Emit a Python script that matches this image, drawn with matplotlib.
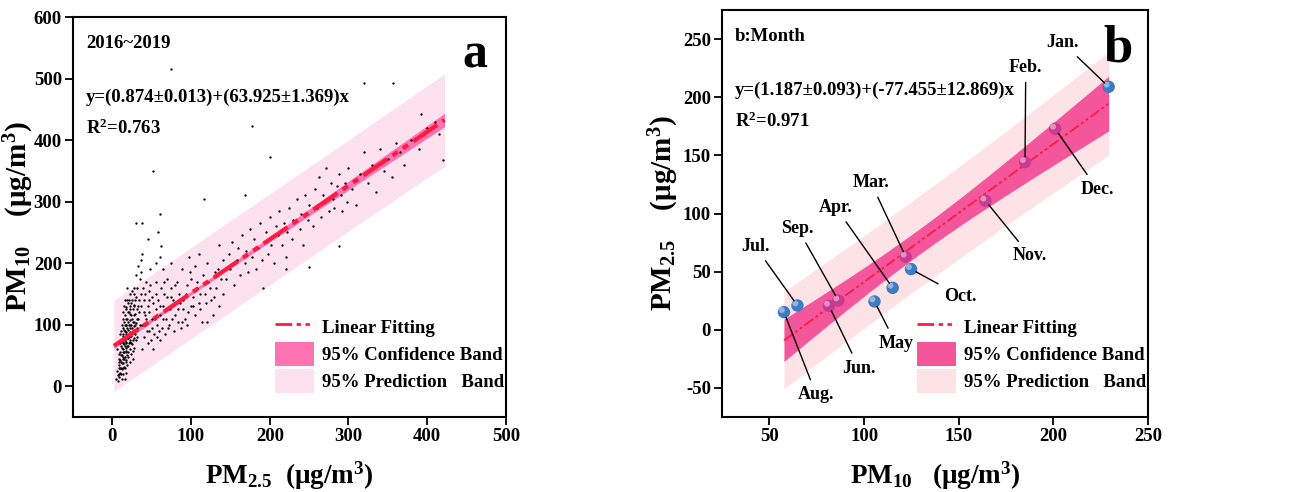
import numpy as np
import matplotlib
matplotlib.use('Agg')
import matplotlib.pyplot as plt
import matplotlib.transforms as mtransforms
from matplotlib.lines import Line2D
from matplotlib.patches import Patch

plt.rcParams['font.family'] = ['Liberation Serif', 'DejaVu Serif']
plt.rcParams['font.weight'] = 'bold'
plt.rcParams['axes.labelweight'] = 'bold'
plt.rcParams['axes.unicode_minus'] = False
plt.rcParams['mathtext.fontset'] = 'custom'
plt.rcParams['mathtext.rm'] = 'Liberation Serif:bold'
plt.rcParams['mathtext.it'] = 'Liberation Serif:bold'
plt.rcParams['mathtext.bf'] = 'Liberation Serif:bold'
plt.rcParams['mathtext.default'] = 'bf'

# ---- panel a: daily PM2.5 vs PM10 ----
daily_points = [
    (5, 12), (6, 25), (7, 18), (8, 35), (8, 45), (9, 30), (10, 22), (10, 55), (11, 40), (11, 65),
    (12, 28), (12, 50), (12, 75), (13, 38), (13, 60), (13, 85), (14, 45), (14, 70), (14, 95), (15, 32),
    (15, 55), (15, 80), (15, 105), (16, 48), (16, 65), (16, 90), (16, 115), (17, 40), (17, 72), (17, 100),
    (18, 58), (18, 85), (18, 125), (19, 50), (19, 78), (19, 110), (20, 65), (20, 92), (20, 135), (21, 70),
    (21, 100), (21, 120), (22, 60), (22, 88), (22, 150), (23, 75), (23, 108), (23, 130), (24, 82), (24, 115),
    (25, 68), (25, 95), (25, 140), (26, 90), (26, 125), (27, 78), (27, 105), (27, 160), (28, 98), (28, 132),
    (29, 85), (29, 118), (30, 102), (30, 145), (31, 92), (32, 125), (33, 110), (34, 140), (35, 175), (36, 205),
    (37, 185), (38, 215), (33, 195), (30, 180), (7, 8), (9, 15), (11, 20), (13, 30), (18, 42), (20, 48),
    (22, 40), (24, 52), (26, 58), (14, 120), (16, 140), (19, 160), (12, 100), (10, 85), (6, 60), (14, 20),
    (17, 55), (19, 35), (21, 85), (23, 95), (15, 68), (13, 48), (18, 100), (20, 78), (11, 30), (16, 30),
    (9, 40), (10, 30), (10, 70), (11, 50), (11, 90), (12, 38), (12, 62), (13, 72), (13, 110), (14, 55),
    (14, 82), (15, 45), (15, 92), (15, 130), (16, 75), (16, 100), (17, 62), (17, 88), (17, 128), (18, 70),
    (18, 110), (19, 65), (19, 95), (19, 140), (20, 55), (20, 105), (20, 120), (21, 80), (21, 140), (22, 72),
    (22, 100), (22, 125), (23, 85), (23, 118), (24, 70), (24, 100), (24, 135), (25, 110), (25, 155), (26, 75),
    (26, 105), (27, 92), (27, 130), (28, 115), (28, 150), (29, 100), (29, 140), (31, 110), (31, 160), (32, 95),
    (33, 130), (34, 120), (35, 100), (36, 150), (37, 130), (38, 100), (39, 160), (40, 140), (41, 115), (43, 170),
    (26, 45), (28, 62), (30, 75), (32, 80), (18, 22), (16, 12), (12, 12), (8, 20), (9, 52), (10, 42),
    (38, 60), (40, 80), (40, 120), (42, 100), (42, 150), (45, 70), (45, 130), (47, 90), (48, 165), (50, 110),
    (50, 145), (52, 60), (53, 85), (55, 125), (55, 170), (57, 100), (58, 140), (60, 75), (60, 115), (62, 160),
    (63, 95), (65, 130), (65, 190), (67, 85), (68, 110), (70, 145), (70, 175), (72, 100), (73, 125), (75, 160),
    (75, 200), (78, 90), (80, 135), (80, 115), (82, 170), (84, 105), (85, 150), (87, 95), (88, 190), (90, 125),
    (90, 140), (92, 110), (95, 165), (95, 100), (97, 210), (100, 130), (100, 175), (102, 145), (105, 115), (105, 195),
    (108, 160), (110, 135), (110, 215), (112, 125), (115, 180), (118, 150), (120, 105), (120, 200), (122, 170), (125, 140),
    (128, 115), (130, 185), (132, 160), (135, 230), (135, 130), (138, 175), (140, 205), (140, 150), (60, 210), (55, 200),
    (48, 190), (45, 240), (62, 228), (58, 250), (43, 110), (46, 155), (52, 135), (57, 80), (66, 150), (77, 140),
    (44, 90), (46, 120), (47, 140), (49, 75), (51, 95), (54, 110), (56, 150), (59, 90), (61, 130), (64, 110),
    (66, 170), (69, 125), (71, 95), (74, 145), (76, 110), (79, 165), (83, 125), (86, 135), (89, 105), (93, 150),
    (96, 120), (99, 185), (103, 130), (107, 170), (111, 150), (114, 105), (119, 135), (124, 160), (129, 145), (134, 190),
    (145, 175), (148, 215), (150, 190), (152, 235), (155, 165), (158, 205), (160, 225), (162, 180), (165, 245), (168, 200),
    (170, 220), (172, 185), (175, 255), (178, 210), (180, 240), (182, 190), (185, 225), (188, 265), (190, 205), (192, 160),
    (195, 250), (198, 215), (200, 275), (202, 230), (205, 200), (208, 260), (210, 245), (212, 285), (215, 230), (218, 265),
    (220, 210), (222, 250), (225, 290), (228, 240), (230, 270), (235, 305), (238, 255), (240, 280), (242, 230), (245, 310),
    (248, 270), (250, 295), (255, 260), (258, 320), (260, 290), (262, 340), (265, 275), (268, 310), (270, 300), (272, 355),
    (275, 285), (278, 330), (280, 305), (282, 290), (285, 325), (288, 345), (290, 310), (292, 285), (295, 330), (298, 300),
    (300, 355), (305, 320), (310, 295), (315, 345), (320, 380), (325, 330), (330, 360), (335, 315), (340, 385), (345, 350),
    (350, 370), (355, 340), (360, 395), (365, 380), (370, 360), (380, 400), (390, 385), (400, 420), (410, 430), (415, 410),
    (420, 367), (75, 515), (52, 350), (60, 280), (30, 265), (38, 265), (320, 492), (357, 492), (392, 443), (177, 423),
    (117, 305), (168, 310), (200, 372), (250, 193), (220, 190), (288, 228),
]
fit_a = (0.874, 63.925)            # slope, intercept as drawn in panel a
band_x_a = [2, 100, 200, 300, 422]
conf_half_a = [4, 3, 4, 7, 11]
pred_half_a = [74, 74, 74, 74, 75]

# ---- panel b: monthly means ----
months = ['Jan.', 'Feb.', 'Mar.', 'Apr.', 'May', 'Jun.', 'Jul.', 'Aug.', 'Sep.', 'Oct.', 'Nov.', 'Dec.']
pm10_b = [229.2, 185.0, 122.0, 115.1, 105.5, 81.5, 64.8, 57.7, 86.4, 124.8, 164.1, 200.9]
pm25_b = [209.0, 144.2, 62.8, 36.1, 24.4, 20.6, 20.9, 15.2, 25.2, 52.2, 111.0, 172.9]
month_group = ['blue', 'pink', 'pink', 'blue', 'blue', 'pink', 'blue', 'blue', 'pink', 'blue', 'pink', 'pink']

# label placement for the month names (data coords)
label_pos = {'Jan.': (204.8, 247), 'Feb.': (185.4, 226), 'Mar.': (103.5, 127), 'Apr.': (85, 105.5),
             'May': (116.7, -11.5), 'Jun.': (97.4, -33), 'Jul.': (42.4, 72), 'Aug.': (74.8, -56),
             'Sep.': (64.8, 87.5), 'Oct.': (151, 29), 'Nov.': (187.7, 63.6), 'Dec.': (223.2, 121)}

line_red = '#FF1A40'
conf_a_col = '#FF73B3'
pred_a_col = '#FDE1EE'
conf_b_col = '#F4569B'
pred_b_col = '#FDE2E6'
sphere_col = {'blue': '#3F7BC2', 'pink': '#C93A93'}
ddash = [6, 1.6, 1.6, 1.6, 1.6, 1.6]

fig = plt.figure(figsize=(12.91, 4.92), dpi=100)
ax1 = fig.add_axes([0.0565, 0.1524, 0.3354, 0.813])
ax2 = fig.add_axes([0.5593, 0.1524, 0.330, 0.8272])

# panel a
bx = np.array(band_x_a, dtype=float)
centre = fit_a[0] * bx + fit_a[1]
ax1.fill_between(bx, centre - np.array(pred_half_a), centre + np.array(pred_half_a), color=pred_a_col, lw=0, zorder=1)
ax1.fill_between(bx, centre - np.array(conf_half_a), centre + np.array(conf_half_a), color=conf_a_col, lw=0, zorder=2)
px, py = zip(*daily_points)
ax1.scatter(px, py, s=2.8, c='black', linewidths=0, zorder=3)
ax1.plot(bx, centre, color=line_red, lw=3, dashes=[7, 1.5, 1.5, 1.5, 1.5, 1.5], zorder=4)
ax1.set_xlim(-50, 500)
ax1.set_ylim(-50, 600)
ax1.set_xticks(np.arange(0, 501, 100))
ax1.set_yticks(np.arange(0, 601, 100))
ax1.set_xlabel('PM$_{2.5}$  (μg/m$^{3}$)', fontsize=19.5)
ax1.set_ylabel('PM$_{10}$    (μg/m$^{3}$)', fontsize=21)
ax1.xaxis.set_label_coords(0.5, -0.105)
ax1.yaxis.set_label_coords(-0.086, 0.5)
ax1.text(0.03, 0.935, '2016~2019', transform=ax1.transAxes, fontsize=13.5, va='center')
ax1.text(0.03, 0.80, 'y=(0.874±0.013)+(63.925±1.369)x', transform=ax1.transAxes, fontsize=13.5, va='center')
ax1.text(0.03, 0.722, 'R$^{2}$=0.763', transform=ax1.transAxes, fontsize=13.5, va='center')
ax1.text(0.929, 0.905, 'a', transform=ax1.transAxes, fontsize=36, ha='center', va='center')

# panel b
xb = np.array(pm10_b)
yb = np.array(pm25_b)
n = len(xb)
slope, intercept = np.polyfit(xb, yb, 1)
resid = yb - (slope * xb + intercept)
s = np.sqrt(np.sum(resid ** 2) / (n - 2))
t975 = 2.228
xx = np.linspace(xb.min(), xb.max(), 100)
yy = slope * xx + intercept
lev = 1.0 / n + (xx - xb.mean()) ** 2 / np.sum((xb - xb.mean()) ** 2)
ax2.fill_between(xx, yy - t975 * s * np.sqrt(1 + lev), yy + t975 * s * np.sqrt(1 + lev), color=pred_b_col, lw=0, zorder=1)
ax2.fill_between(xx, yy - t975 * s * np.sqrt(lev), yy + t975 * s * np.sqrt(lev), color=conf_b_col, lw=0, zorder=2)
ax2.plot(xx, yy, color=line_red, lw=1.3, dashes=ddash, zorder=3)

cols = [sphere_col[g] for g in month_group]
ax2.scatter(xb, yb, s=80, c=cols, edgecolors='none', zorder=5)
hl = ax2.transData + mtransforms.ScaledTranslation(-1.5 / 72, 1.5 / 72, fig.dpi_scale_trans)
ax2.scatter(xb, yb, s=18, c='white', alpha=0.45, edgecolors='none', zorder=6, transform=hl)

for m, x0, y0 in zip(months, xb, yb):
    ax2.annotate(m, xy=(x0, y0), xytext=label_pos[m], fontsize=13, ha='center', va='center',
                 arrowprops=dict(arrowstyle='-', color='black', lw=1.0, shrinkA=3, shrinkB=4), zorder=7)

ax2.set_xlim(25, 250)
ax2.set_ylim(-75, 275)
ax2.set_xticks(np.arange(50, 251, 50))
ax2.set_yticks(np.arange(-50, 251, 50))
ax2.set_xlabel('PM$_{10}$   (μg/m$^{3}$)', fontsize=19.5)
ax2.set_ylabel('PM$_{2.5}$    (μg/m$^{3}$)', fontsize=21)
ax2.xaxis.set_label_coords(0.5, -0.105)
ax2.yaxis.set_label_coords(-0.097, 0.5)
ax2.text(0.03, 0.936, 'b:Month', transform=ax2.transAxes, fontsize=13.5, va='center')
ax2.text(0.03, 0.803, 'y=(1.187±0.093)+(-77.455±12.869)x', transform=ax2.transAxes, fontsize=13.5, va='center')
ax2.text(0.03, 0.727, 'R$^{2}$=0.971', transform=ax2.transAxes, fontsize=13.5, va='center')
ax2.text(0.93, 0.905, 'b', transform=ax2.transAxes, fontsize=38, ha='center', va='center')

for ax, cc, pc in [(ax1, conf_a_col, pred_a_col), (ax2, conf_b_col, pred_b_col)]:
    for sp in ax.spines.values():
        sp.set_linewidth(1.5)
    ax.tick_params(direction='out', length=6, width=1.3, pad=2, labelsize=13.5, top=False, right=False)
    for lab in ax.get_xticklabels() + ax.get_yticklabels():
        lab.set_fontweight('bold')
    handles = [Line2D([0], [0], color=line_red, lw=2, dashes=ddash),
               Patch(facecolor=cc, edgecolor='none'),
               Patch(facecolor=pc, edgecolor='none')]
    ax.legend(handles, ['Linear Fitting', '95% Confidence Band', '95% Prediction   Band'],
              loc='lower right', bbox_to_anchor=(0.995, 0.06), frameon=False, fontsize=13.5,
              handlelength=2.1, handleheight=1.6, labelspacing=0.15, handletextpad=0.4,
              borderaxespad=0.0, borderpad=0.0)

fig.savefig('out.png', dpi=100)
